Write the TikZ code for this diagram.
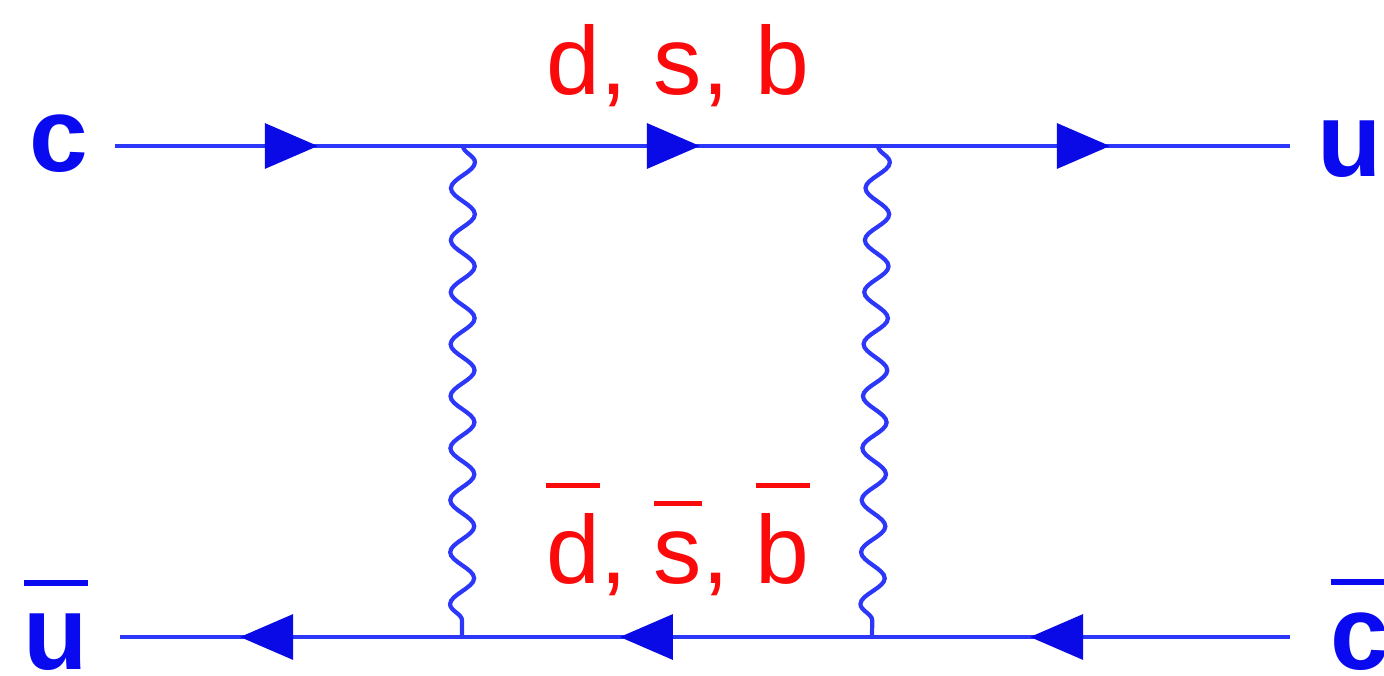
\documentclass[tikz,border=0pt]{standalone}
\usepackage{fontspec}
\setmainfont{Liberation Sans}
\usetikzlibrary{arrows.meta, decorations.pathmorphing, decorations.markings}

\definecolor{lineblue}{RGB}{45,55,250}
\definecolor{tipblue}{RGB}{10,10,230}
\definecolor{textblue}{RGB}{10,10,240}
\definecolor{textred}{RGB}{250,10,10}

% antiparticle bar, set well above the letter
\newcommand{\qbar}[1]{\setbox0\hbox{#1}\rlap{\raisebox{\dimexpr\ht0+0.26em\relax}{\rule{\wd0}{0.055em}}}\box0}

\tikzset{
	quark/.style={draw=lineblue, line width=0.9pt, postaction={decorate},
		decoration={markings, mark=at position #1 with {\arrow{Triangle[length=5.3mm, width=4.5mm, color=tipblue]}}}},
	boson/.style={draw=lineblue, line width=1.2pt, decorate,
		decoration={snake, segment length=5.2mm, amplitude=1.2mm}},
	blab/.style={text=textblue, font=\fontsize{30}{36}\selectfont\bfseries, anchor=base, inner sep=0pt},
	rlab/.style={text=textred, font=\fontsize{27.5}{33}\selectfont, anchor=base, inner sep=0pt},
}

\begin{document}
\begin{tikzpicture}
		\useasboundingbox (0,0) rectangle (13.84,6.75);
		
		% Vertices and the free ends of the external lines
		\coordinate (v1) at (4.63,5.29);
		\coordinate (v2) at (8.78,5.29);
		\coordinate (v3) at (4.62,0.38);
		\coordinate (v4) at (8.72,0.38);
		\coordinate (cend) at (1.15,5.29);
		\coordinate (uend) at (12.90,5.29);
		\coordinate (ubend) at (1.20,0.38);
		\coordinate (cbend) at (12.90,0.38);
		
		% External quark labels
		\node[blab] (c) at (0.59,5.03) {c};
		\node[blab] (u) at (13.50,4.98) {u};
		\node[blab] (ubar) at (0.56,0.06) {\qbar{u}};
		\node[blab] (cbar) at (13.60,0.06) {\qbar{c}};
		
		% Internal quark labels
		\node[rlab] (dsb) at (6.78,5.80) {d, s, b};
		\node[rlab] (dsbbar) at (6.78,0.92) {\qbar{d}, \qbar{s}, \qbar{b}};
		
		% Upper quark line
		\draw[quark=0.583] (cend) -- (v1);
		\draw[quark=0.571] (v1) -- (v2);
		\draw[quark=0.563] (v2) -- (uend);
		
		% Lower antiquark line, running to the left
		\draw[quark=0.622] (cbend) -- (v4);
		\draw[quark=0.615] (v4) -- (v3);
		\draw[quark=0.649] (v3) -- (ubend);
		
		% W exchange
		\draw[boson] (v1) -- (v3);
		\draw[boson] (v2) -- (v4);
		
	\end{tikzpicture}
\end{document}
